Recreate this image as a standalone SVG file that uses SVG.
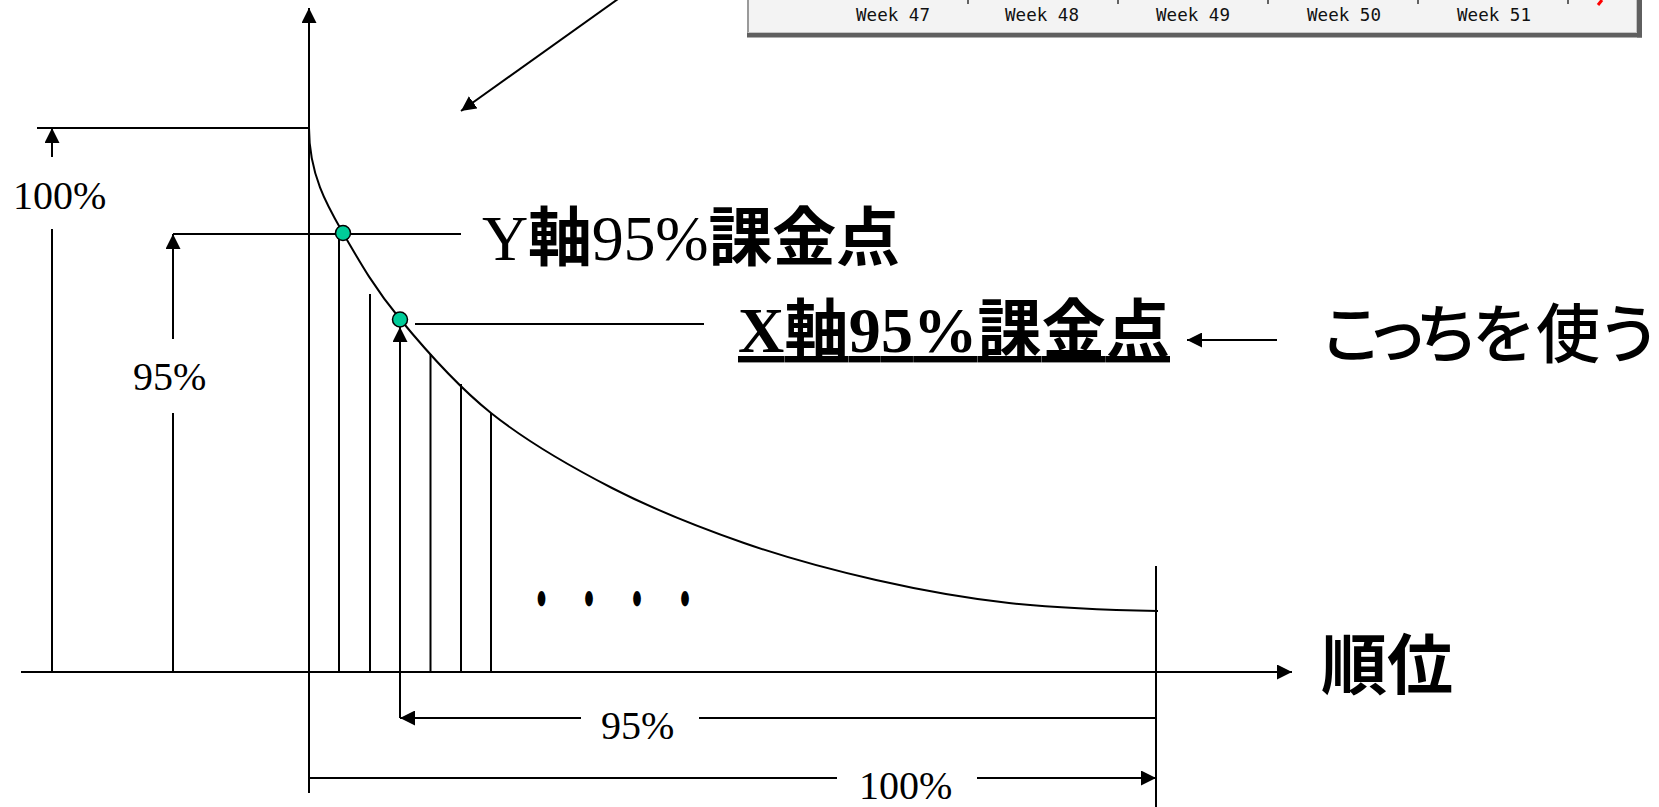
<svg xmlns="http://www.w3.org/2000/svg" width="1659" height="807" viewBox="0 0 1659 807">
<defs>
<style>
.ln{stroke:#000;stroke-width:2;fill:none}
.serif{font-family:"Liberation Serif","Times New Roman",serif}
.jp{font-family:"Noto Sans CJK JP","Noto Sans CJK SC",sans-serif;font-weight:700}
.wk{font-family:"DejaVu Sans Mono","Liberation Mono",monospace;font-size:17px;fill:#111}
.pct{font-family:"Liberation Serif","Times New Roman",serif;font-size:40px;fill:#000}
.dot{fill:#00cc99;stroke:#000;stroke-width:1.5}
</style>
<marker id="ah" viewBox="0 0 15 15" refX="15" refY="7.5" markerWidth="15" markerHeight="15" markerUnits="userSpaceOnUse" orient="auto">
<path d="M0,0 L15,7.5 L0,15 z" fill="#000"/>
</marker>
</defs>
<rect width="1659" height="807" fill="#fff"/>

<g id="chart-snippet">
<rect x="747" y="-6" width="892" height="40" fill="#f3f3f3"/>
<line x1="748" y1="-6" x2="748" y2="34" stroke="#9a9a9a" stroke-width="2"/>
<line x1="748" y1="32.5" x2="1637" y2="32.5" stroke="#c4c4c4" stroke-width="1"/>
<line x1="1636.5" y1="-6" x2="1636.5" y2="33" stroke="#c4c4c4" stroke-width="1"/>
<rect x="747" y="33" width="895" height="4.5" fill="#5f5f5f"/>
<rect x="1637" y="-6" width="5" height="43.5" fill="#5f5f5f"/>
<g stroke="#333" stroke-width="1.5">
<line x1="968" y1="0" x2="968" y2="4"/>
<line x1="1118" y1="0" x2="1118" y2="4"/>
<line x1="1268" y1="0" x2="1268" y2="4"/>
<line x1="1418" y1="0" x2="1418" y2="4"/>
<line x1="1568" y1="0" x2="1568" y2="4"/>
</g>
<line x1="1602" y1="0" x2="1598" y2="5" stroke="#ff0000" stroke-width="3"/>
<text class="wk" x="856" y="21" textLength="74" lengthAdjust="spacingAndGlyphs">Week 47</text>
<text class="wk" x="1005" y="21" textLength="74" lengthAdjust="spacingAndGlyphs">Week 48</text>
<text class="wk" x="1156" y="21" textLength="74" lengthAdjust="spacingAndGlyphs">Week 49</text>
<text class="wk" x="1307" y="21" textLength="74" lengthAdjust="spacingAndGlyphs">Week 50</text>
<text class="wk" x="1457" y="21" textLength="74" lengthAdjust="spacingAndGlyphs">Week 51</text>
</g>

<g id="connectors">
<line class="ln" x1="309" y1="793" x2="309" y2="8" marker-end="url(#ah)"/>
<line class="ln" x1="21" y1="672" x2="1292" y2="672" marker-end="url(#ah)"/>
<line class="ln" x1="37" y1="128" x2="309" y2="128"/>
<line class="ln" x1="52" y1="157" x2="52" y2="128" marker-end="url(#ah)"/>
<line class="ln" x1="52" y1="229" x2="52" y2="672"/>
<line class="ln" x1="173" y1="234" x2="461" y2="234"/>
<line class="ln" x1="173" y1="339" x2="173" y2="234" marker-end="url(#ah)"/>
<line class="ln" x1="173" y1="413" x2="173" y2="672"/>
<line class="ln" x1="339" y1="233" x2="339" y2="672"/>
<line class="ln" x1="370" y1="294" x2="370" y2="672"/>
<line class="ln" x1="430.5" y1="354" x2="430.5" y2="672"/>
<line class="ln" x1="461" y1="384" x2="461" y2="672"/>
<line class="ln" x1="491" y1="413" x2="491" y2="672"/>
<line class="ln" x1="400" y1="718" x2="400" y2="327" marker-end="url(#ah)"/>
<line class="ln" x1="415" y1="324" x2="704" y2="324"/>
<line class="ln" x1="581" y1="718" x2="400" y2="718" marker-end="url(#ah)"/>
<line class="ln" x1="699" y1="718" x2="1156" y2="718"/>
<line class="ln" x1="309" y1="778" x2="837" y2="778"/>
<line class="ln" x1="977" y1="778" x2="1156" y2="778" marker-end="url(#ah)"/>
<line class="ln" x1="1156" y1="566" x2="1156" y2="807"/>
<line class="ln" x1="618" y1="-1" x2="461" y2="111" marker-end="url(#ah)"/>
<line class="ln" x1="1277" y1="340" x2="1187" y2="340" marker-end="url(#ah)"/>
</g>

<g id="curve">
<path class="ln" d="M309,128 C309,175 328,207 343,233 C362,266 375.33,289 400,319 C424.67,349 455.67,384.83 491,413 C526.33,441.17 569.83,466.33 612,488 C654.17,509.67 700,527.67 744,543 C788,558.33 831.83,570 876,580 C920.17,590 962,597.83 1009,603 C1056,608.17 1108.33,610 1158,611"/>
</g>

<g id="point-y95">
<circle class="dot" cx="343" cy="233" r="7.5"/>
</g>
<g id="point-x95">
<circle class="dot" cx="400" cy="319.5" r="7.5"/>
</g>

<g id="label-100-left"><text class="pct" x="13" y="209">100%</text></g>
<g id="label-95-left"><text class="pct" x="133" y="390">95%</text></g>
<g id="label-95-bottom"><text class="pct" x="601" y="739">95%</text></g>
<g id="label-100-bottom"><text class="pct" x="859" y="799">100%</text></g>

<g id="ellipsis">
<text x="541.5 589 637 685" y="11.4" transform="translate(0,599) scale(1,2)" text-anchor="middle" font-family="Noto Sans CJK JP, sans-serif" font-size="30" font-weight="700">・・・・</text>
</g>

<g id="label-y95">
<text x="482" y="260" font-size="64" textLength="418" lengthAdjust="spacing"><tspan class="serif">Y</tspan><tspan class="jp">軸</tspan><tspan class="serif">95%</tspan><tspan class="jp">課金点</tspan></text>
</g>
<g id="label-x95">
<text x="738" y="352" font-size="64" class="serif" font-weight="700" text-decoration="underline" textLength="432" lengthAdjust="spacing"><tspan>X</tspan><tspan class="jp">軸</tspan><tspan>95%</tspan><tspan class="jp">課金点</tspan></text>
</g>
<g id="label-use-this">
<text x="1351 1397 1447 1504 1568 1629" y="357" text-anchor="middle" font-size="64" font-family="Noto Sans CJK JP, Noto Sans CJK SC, sans-serif" font-weight="500">こっちを使う</text>
</g>
<g id="label-rank">
<text x="1321" y="689" font-size="66" class="jp">順位</text>
</g>
</svg>
